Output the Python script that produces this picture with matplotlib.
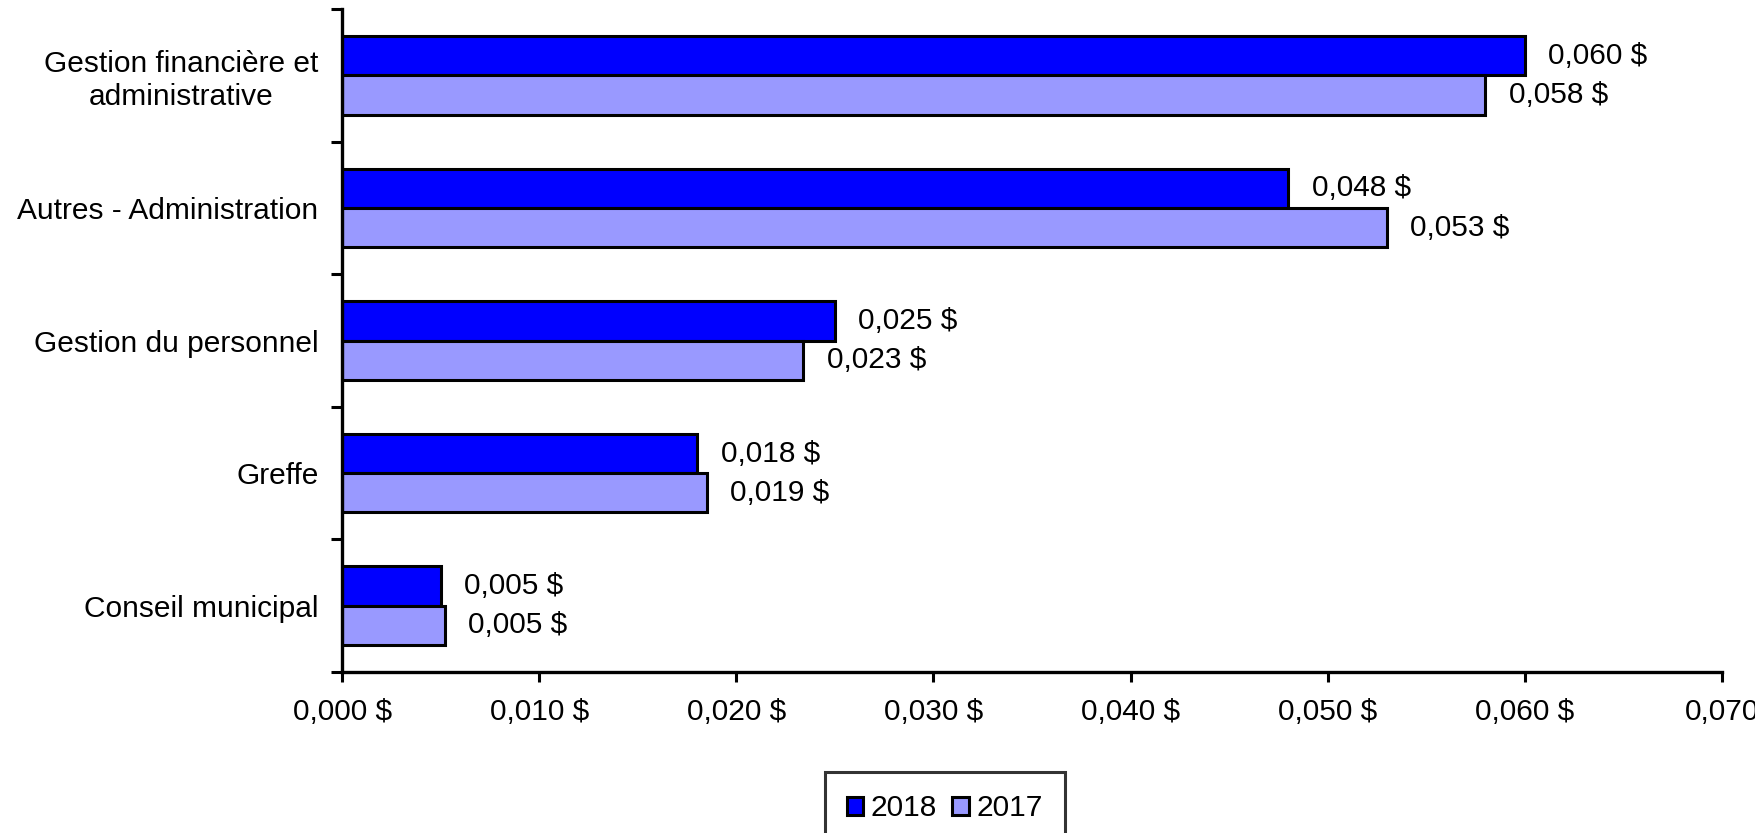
import numpy as np
import matplotlib.pyplot as plt
from matplotlib.patches import Patch

plt.rcParams["font.family"] = ["Liberation Sans", "DejaVu Sans"]

categories = ["Gestion financière et\nadministrative", "Autres - Administration",
              "Gestion du personnel", "Greffe", "Conseil municipal"]
values_2018 = [0.060, 0.048, 0.025, 0.018, 0.005]
values_2017 = [0.058, 0.053, 0.0234, 0.0185, 0.0052]
labels_2018 = ["0,060 $", "0,048 $", "0,025 $", "0,018 $", "0,005 $"]
labels_2017 = ["0,058 $", "0,053 $", "0,023 $", "0,019 $", "0,005 $"]
xticks = [0.0, 0.01, 0.02, 0.03, 0.04, 0.05, 0.06, 0.07]
xtick_labels = ["0,000 $", "0,010 $", "0,020 $", "0,030 $", "0,040 $", "0,050 $", "0,060 $", "0,070"]

c2018 = "#0000ff"
c2017 = "#9999ff"
fs = 21.5
lw = 2.2

fig = plt.figure(figsize=(17.56, 8.33), dpi=100)
ax = fig.add_axes([0.1948, 0.1933, 0.9806 - 0.1948, 0.989 - 0.1933])

y = np.arange(len(categories))[::-1].astype(float)
h = 0.296
b1 = ax.barh(y + h / 2, values_2018, height=h, color=c2018, edgecolor="black", linewidth=lw)
b2 = ax.barh(y - h / 2, values_2017, height=h, color=c2017, edgecolor="black", linewidth=lw)

for bars, labs in [(b1, labels_2018), (b2, labels_2017)]:
    for rect, lab in zip(bars, labs):
        ax.annotate(lab, (rect.get_width(), rect.get_y() + rect.get_height() / 2),
                    xytext=(17, 0), textcoords="offset points",
                    va="center", ha="left", fontsize=fs)

ax.set_xlim(0, 0.07)
ax.set_ylim(-0.5, len(categories) - 0.5)
ax.set_xticks(xticks)
ax.set_xticklabels(xtick_labels, fontsize=fs)
ax.set_yticks(y)
ax.set_yticklabels(categories, fontsize=fs, multialignment="center")
ax.set_yticks(np.arange(len(categories) + 1) - 0.5, minor=True)
ax.tick_params(axis="y", which="major", length=0, pad=17)
ax.tick_params(axis="y", which="minor", length=8, width=lw)
ax.tick_params(axis="x", length=7, width=lw, pad=12)

for s in ["top", "right"]:
    ax.spines[s].set_visible(False)
for s in ["left", "bottom"]:
    ax.spines[s].set_linewidth(2.4)

handles = [Patch(facecolor=c2018, edgecolor="black", linewidth=lw, label="2018"),
           Patch(facecolor=c2017, edgecolor="black", linewidth=lw, label="2017")]
leg = fig.legend(handles=handles, loc="upper center", bbox_to_anchor=(0.538, 0.0732),
                 ncol=2, fontsize=fs, frameon=True, fancybox=False, borderaxespad=0,
                 handlelength=0.55, handleheight=0.55, handletextpad=0.25,
                 columnspacing=0.5, borderpad=0.75)
leg.get_frame().set_edgecolor("black")
leg.get_frame().set_linewidth(2.2)

fig.savefig("out.png", dpi=100)
